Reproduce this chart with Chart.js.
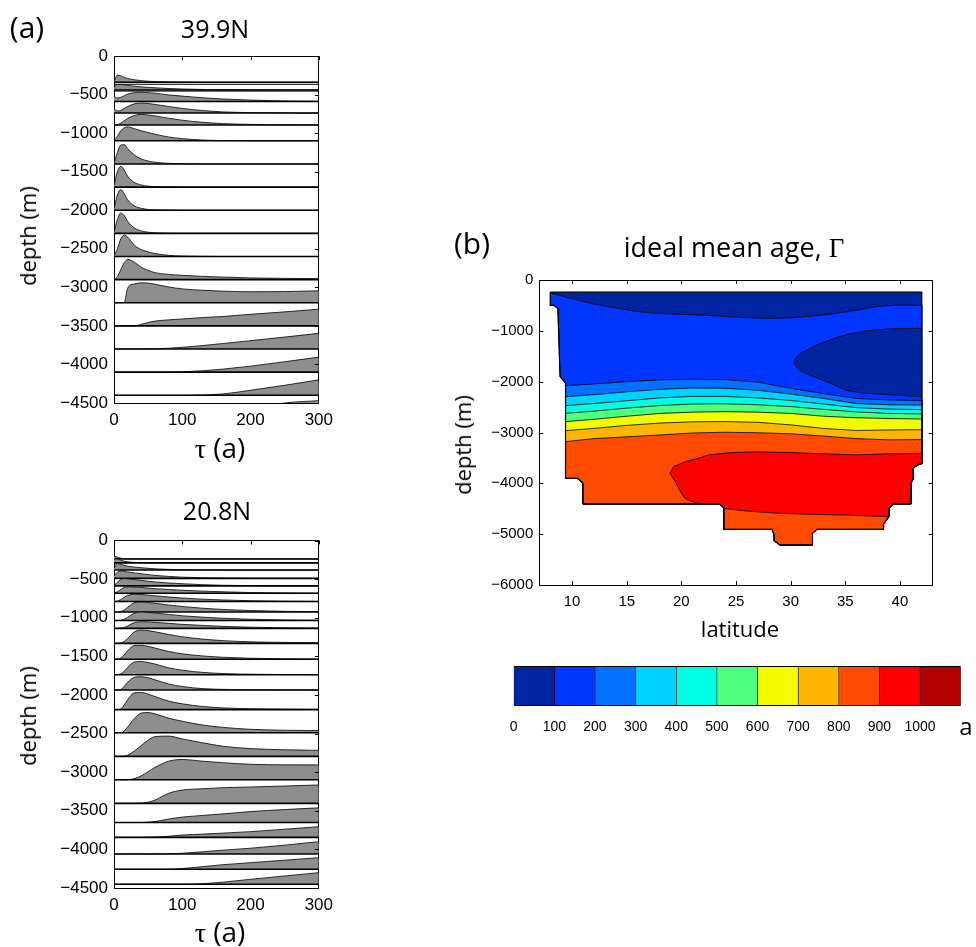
<!DOCTYPE html>
<html>
<head>
<meta charset="utf-8">
<script src="https://cdn.jsdelivr.net/npm/chart.js@4.4.1/dist/chart.umd.min.js"></script>
<style>
  html, body { margin: 0; padding: 0; background: #fff; }
  #page { position: relative; width: 976px; height: 947px; overflow: hidden; }
  canvas { position: absolute; }
  .lbl { position: absolute; transform: translate(-50%, -50%); white-space: nowrap;
         font-family: 'Open Sans', sans-serif; color: #000; line-height: 1; }
  .rot { transform: translate(-50%, -50%) rotate(-90deg); }
  .serif { font-family: 'Liberation Serif', serif; }
</style>
</head>
<body>
<div id="page">
  <canvas id="ridgeTop" width="340" height="470" style="left:0;top:0"></canvas>
  <canvas id="ridgeBottom" width="340" height="477" style="left:0;top:470px"></canvas>
  <canvas id="ageMap" width="536" height="460" style="left:440px;top:200px"></canvas>
  <canvas id="ageBar" width="486" height="100" style="left:490px;top:650px"></canvas>

  <div class="lbl" style="left:27px;top:27px;font-size:30px">(a)</div>
  <div class="lbl" style="left:215px;top:28px;font-size:25px">39.9N</div>
  <div class="lbl rot" style="left:27px;top:236px;font-size:22px">depth (m)</div>
  <div class="lbl" style="left:220px;top:448px;font-size:28px"><span class="serif">τ</span> (a)</div>

  <div class="lbl" style="left:217px;top:510px;font-size:25px">20.8N</div>
  <div class="lbl rot" style="left:27px;top:716px;font-size:22px">depth (m)</div>
  <div class="lbl" style="left:220px;top:932px;font-size:28px"><span class="serif">τ</span> (a)</div>

  <div class="lbl" style="left:472px;top:243px;font-size:30px">(b)</div>
  <div class="lbl" style="left:734px;top:247px;font-size:27px">ideal mean age, <span class="serif">Γ</span></div>
  <div class="lbl rot" style="left:462px;top:445px;font-size:22px">depth (m)</div>
  <div class="lbl" style="left:740px;top:628px;font-size:22px">latitude</div>
  <div class="lbl" style="left:966px;top:726px;font-size:24px">a</div>
</div>

<script>
Chart.defaults.font.family = "'Liberation Sans', Arial, sans-serif";
Chart.defaults.color = '#000';

// ---- panel (a): transit-time distributions ----
const tauGrid = [0, 5, 10, 15, 20, 30, 40, 50, 60, 80, 100, 130, 160, 200, 250, 300];
const tauTicks = [0, 100, 200, 300];
const depthTicksA = [0, -500, -1000, -1500, -2000, -2500, -3000, -3500, -4000, -4500];

// 39.9N: baseline depth of each ridge (m) and rise above it (m) at tauGrid
const base39 = [-340, -440, -590, -740, -895, -1100, -1400, -1700, -2000, -2300,
                -2600, -2900, -3200, -3500, -3800, -4100, -4400, -4700];
const rise39 = [
  [10, 92, 82, 62, 48, 32, 20, 13, 8, 4, 2, 0, 0, 0, 0, 0],
  [35, 70, 72, 65, 58, 48, 40, 33, 28, 18, 12, 6, 3, 1, 0, 0],
  [70, 45, 55, 75, 95, 115, 120, 115, 108, 85, 70, 48, 32, 18, 8, 3],
  [60, 28, 35, 60, 85, 120, 130, 125, 112, 85, 60, 33, 15, 6, 2, 0],
  [0, 5, 25, 55, 85, 125, 138, 130, 118, 88, 62, 35, 18, 8, 2, 0],
  [5, 60, 130, 170, 180, 158, 130, 108, 86, 50, 28, 10, 3, 0, 0, 0],
  [10, 150, 245, 250, 200, 115, 65, 38, 22, 8, 3, 0, 0, 0, 0, 0],
  [20, 200, 270, 220, 140, 60, 28, 12, 6, 2, 0, 0, 0, 0, 0, 0],
  [20, 200, 268, 215, 135, 55, 25, 10, 5, 2, 0, 0, 0, 0, 0, 0],
  [15, 180, 265, 230, 155, 70, 32, 15, 7, 2, 0, 0, 0, 0, 0, 0],
  [10, 100, 230, 278, 250, 145, 90, 60, 38, 15, 6, 2, 0, 0, 0, 0],
  [0, 40, 130, 220, 262, 225, 160, 120, 90, 68, 56, 42, 33, 22, 16, 13],
  [0, 0, 0, 5, 190, 245, 258, 255, 240, 205, 180, 162, 150, 143, 145, 155],
  [0, 0, 0, 0, 0, 0, 20, 45, 62, 78, 90, 108, 122, 150, 182, 216],
  [0, 0, 0, 0, 0, 0, 0, 2, 4, 10, 22, 45, 72, 108, 155, 203],
  [0, 0, 0, 0, 0, 0, 0, 0, 0, 1, 5, 18, 40, 78, 135, 195],
  [0, 0, 0, 0, 0, 0, 0, 0, 0, 0, 0, 4, 18, 65, 130, 200],
  [0, 0, 0, 0, 0, 0, 0, 0, 0, 0, 0, 0, 15, 110, 200, 230]
];
const boxTop39 = [-367, -455];

// 20.8N
const base20 = [-240, -290, -382, -490, -588, -684, -790, -925, -1035, -1138, -1332, -1537,
                -1738, -1936, -2190, -2490, -2795, -3098, -3404, -3652, -3844, -4060, -4258, -4452];
const rise20 = [
  [40, 25, 10, 5, 2, 0, 0, 0, 0, 0, 0, 0, 0, 0, 0, 0],
  [50, 50, 35, 22, 14, 6, 2, 0, 0, 0, 0, 0, 0, 0, 0, 0],
  [20, 85, 75, 60, 50, 38, 30, 22, 15, 8, 4, 1, 0, 0, 0, 0],
  [30, 80, 95, 90, 82, 70, 60, 48, 38, 25, 15, 8, 4, 1, 0, 0],
  [5, 45, 85, 95, 92, 82, 72, 60, 52, 38, 28, 16, 8, 3, 1, 0],
  [5, 20, 50, 78, 86, 82, 76, 68, 60, 50, 40, 28, 20, 10, 4, 1],
  [0, 5, 25, 55, 80, 94, 90, 82, 74, 58, 45, 30, 20, 10, 4, 1],
  [0, 0, 5, 25, 60, 120, 128, 122, 112, 90, 70, 48, 32, 18, 8, 3],
  [0, 0, 3, 15, 40, 95, 108, 104, 96, 78, 60, 42, 28, 15, 6, 2],
  [0, 0, 3, 12, 32, 75, 86, 84, 78, 65, 52, 38, 26, 15, 7, 3],
  [0, 0, 5, 25, 65, 150, 172, 165, 150, 115, 85, 55, 35, 20, 12, 8],
  [0, 2, 15, 55, 110, 178, 180, 165, 145, 100, 70, 42, 25, 12, 5, 2],
  [0, 2, 12, 45, 95, 165, 172, 158, 138, 90, 58, 30, 15, 6, 2, 0],
  [0, 0, 8, 45, 100, 165, 172, 158, 132, 78, 45, 18, 8, 3, 1, 0],
  [0, 0, 10, 60, 130, 218, 222, 200, 170, 110, 75, 40, 22, 12, 6, 3],
  [0, 0, 2, 25, 75, 185, 255, 262, 245, 190, 150, 100, 70, 45, 33, 28],
  [0, 0, 0, 2, 15, 70, 140, 210, 255, 262, 225, 175, 130, 100, 85, 77],
  [0, 0, 0, 0, 0, 15, 50, 105, 160, 240, 262, 240, 220, 200, 193, 192],
  [0, 0, 0, 0, 0, 0, 3, 15, 42, 130, 172, 190, 203, 212, 225, 238],
  [0, 0, 0, 0, 0, 0, 0, 5, 12, 45, 70, 92, 112, 142, 168, 190],
  [0, 0, 0, 0, 0, 0, 0, 2, 5, 14, 30, 42, 55, 74, 105, 138],
  [0, 0, 0, 0, 0, 0, 0, 0, 0, 3, 10, 30, 50, 75, 115, 160],
  [0, 0, 0, 0, 0, 0, 0, 0, 0, 0, 10, 35, 60, 86, 118, 151],
  [0, 0, 0, 0, 0, 0, 0, 0, 0, 0, 0, 8, 28, 65, 108, 151]
];

// ---- panel (b): ideal mean age section ----
const latTicks = [10, 15, 20, 25, 30, 35, 40];
const depthTicksB = [0, -1000, -2000, -3000, -4000, -5000, -6000];
const ageLevels = [0, 100, 200, 300, 400, 500, 600, 700, 800, 900, 1000, 1100];
const ageTickLabels = [0, 100, 200, 300, 400, 500, 600, 700, 800, 900, 1000];
const ageColors = ['#0024a0', '#0036ff', '#0072ff', '#00d2ff', '#00ffe2', '#4eff80',
                   '#f4fa00', '#ffb600', '#ff4a00', '#ff0000', '#b20000'];

// basin outline [lat, depth]
const domainTop = [[8, -240], [42, -240]];
const domainLower = [[42, -3610], [41.6, -3640], [41.2, -3700], [41.2, -3920], [41, -4000],
  [41, -4405], [39.4, -4405], [39, -4490], [39, -4655], [38.5, -4800], [38.5, -4905],
  [32.4, -4905], [32, -4985], [32, -5210], [29, -5210], [28.5, -5130], [28.5, -5020],
  [28.3, -4905], [23.9, -4905], [23.9, -4490], [23.5, -4405], [11, -4405], [11, -4000],
  [10.5, -3900], [9.4, -3900]];
const domainLeft = [[9.4, -2030], [8.9, -1900], [8.7, -560], [8.35, -500], [8, -500]];

// contours
const c100 = [[8, -250], [10, -370], [12, -470], [14, -550], [16, -620], [18, -660], [20, -675],
  [22, -690], [24, -715], [26, -740], [28, -755], [30, -745], [32, -710], [34, -660],
  [36, -595], [38, -520], [39.5, -495], [42, -495]];
const youngTongue = [[42, -951], [40, -955], [38.8, -964], [37, -1000], [35.7, -1049],
  [34.5, -1110], [33.6, -1180], [32.5, -1270], [31.8, -1344], [31, -1430], [30.55, -1508],
  [30.33, -1600], [30.45, -1690], [30.85, -1780], [31.5, -1850], [32.1, -1900], [33.6, -2030],
  [35.1, -2170], [36.6, -2225], [38.2, -2245], [40, -2270], [42, -2300]];
const contourLat = [9.4, 12, 15, 18, 21, 24, 27, 30, 33, 36, 39, 42];
const c200 = [-2080, -2045, -2000, -1965, -1950, -1960, -2010, -2130, -2235, -2330, -2360, -2370];
const c300 = [-2295, -2255, -2200, -2150, -2125, -2130, -2170, -2245, -2330, -2430, -2455, -2460];
const c400 = [-2472, -2430, -2375, -2320, -2290, -2290, -2320, -2370, -2440, -2510, -2540, -2550];
const c500 = [-2623, -2580, -2520, -2470, -2440, -2435, -2455, -2490, -2545, -2595, -2625, -2635];
const c600 = [-2787, -2740, -2680, -2625, -2600, -2590, -2600, -2625, -2680, -2710, -2725, -2735];
const c700 = [-2964, -2920, -2860, -2815, -2790, -2785, -2800, -2850, -2920, -2960, -2950, -2945];
const c800 = [-3180, -3120, -3085, -3050, -3010, -2995, -3005, -3025, -3070, -3120, -3145, -3140];
const blob900 = [[42, -3410], [39, -3420], [36, -3440], [33, -3420], [30, -3395], [27, -3380],
  [24.5, -3395], [22.5, -3440], [21.5, -3510], [20.3, -3580], [19.3, -3670], [18.95, -3800],
  [19.4, -3950], [19.8, -4120], [20.3, -4290], [21, -4360], [21.8, -4405], [23.5, -4405],
  [23.9, -4492], [26, -4545], [29, -4590], [32, -4610], [35, -4625], [39, -4655], [39, -4490],
  [39.4, -4405], [41, -4405], [41, -4000], [41.2, -3920], [41.2, -3700], [41.6, -3640], [42, -3610]];

const pts = arr => arr.map(([x, y]) => ({x, y}));
const minus = v => String(v).replace('-', '\u2212');
const setTicks = list => s => { s.ticks = list.map(v => ({value: v})); };

// small inward tick marks like the original axes
const inTicks = {
  id: 'inTicks',
  afterDraw(chart, args, o) {
    const {ctx, chartArea: a, scales} = chart;
    const len = o.len || 4;
    ctx.save();
    ctx.strokeStyle = '#000';
    ctx.lineWidth = 1;
    ctx.beginPath();
    scales.x.ticks.forEach(t => {
      const p = Math.round(scales.x.getPixelForValue(t.value)) + 0.5;
      if (o.top) { ctx.moveTo(p, a.top); ctx.lineTo(p, a.top + len); }
      if (o.bottom) { ctx.moveTo(p, a.bottom); ctx.lineTo(p, a.bottom - len); }
    });
    scales.y.ticks.forEach(t => {
      const p = Math.round(scales.y.getPixelForValue(t.value)) + 0.5;
      if (o.left) { ctx.moveTo(a.left, p); ctx.lineTo(a.left + len, p); }
      if (o.right) { ctx.moveTo(a.right, p); ctx.lineTo(a.right - len, p); }
    });
    ctx.stroke();
    ctx.restore();
  }
};

function frameScales(xmin, xmax, ymin, ymax) {
  const edge = {display: false, drawTicks: false};
  return {
    x2: {type: 'linear', position: 'top', min: xmin, max: xmax, grid: edge,
         ticks: {display: false}, border: {color: '#000'}, afterFit: s => { s.height = 0; }},
    y2: {type: 'linear', position: 'right', min: ymin, max: ymax, grid: edge,
         ticks: {display: false}, border: {color: '#000'}, afterFit: s => { s.width = 0; }}
  };
}

function hline(depth, w) {
  return {data: [{x: 0, y: depth}, {x: 300, y: depth}], borderColor: '#000', borderWidth: w, fill: false};
}

function ridgeChart(id, bases, rises, tops, padTop, xHeight) {
  const datasets = [];
  tops.forEach(d => datasets.push(hline(d, 1)));
  bases.forEach((b, i) => {
    datasets.push({
      data: tauGrid.map((t, j) => ({x: t, y: b + rises[i][j]})),
      borderColor: '#000',
      borderWidth: 0.8,
      backgroundColor: '#8e8e8e',
      fill: {value: b},
      cubicInterpolationMode: 'monotone'
    });
    datasets.push(hline(b, 1.6));
  });
  datasets.forEach((d, i) => { d.order = -i; d.pointRadius = 0; });

  return new Chart(document.getElementById(id), {
    type: 'line',
    data: {datasets},
    plugins: [inTicks],
    options: {
      responsive: false, animation: false, devicePixelRatio: 1,
      layout: {padding: {top: padTop, right: 21, left: 0, bottom: 0}},
      plugins: {legend: {display: false}, tooltip: {enabled: false},
                inTicks: {top: true, right: true, len: 4}},
      scales: Object.assign({
        x: {type: 'linear', min: 0, max: 300,
            grid: {display: false, drawTicks: false}, border: {color: '#000'},
            ticks: {font: {size: 17}, padding: 7},
            afterBuildTicks: setTicks(tauTicks), afterFit: s => { s.height = xHeight; }},
        y: {type: 'linear', min: -4500, max: 0,
            grid: {display: false, drawTicks: false}, border: {color: '#000'},
            ticks: {font: {size: 17}, padding: 6, callback: minus},
            afterBuildTicks: setTicks(depthTicksA), afterFit: s => { s.width = 114; }}
      }, frameScales(0, 300, -4500, 0))
    }
  });
}

ridgeChart('ridgeTop', base39, rise39, boxTop39, 56, 67);
ridgeChart('ridgeBottom', base20, rise20, [], 70.5, 59);

// ---- age section ----
function poly(points, color, bw) {
  return {data: pts(points), backgroundColor: color, borderColor: '#000', borderWidth: bw, fill: 'shape'};
}
const bands = [c200, c300, c400, c500, c600, c700, c800];
const mapSets = [
  poly(domainTop.concat(domainLower, domainLeft), ageColors[0], 0),
  poly(c100.concat(domainLower, domainLeft), ageColors[1], 0.8),
  poly(youngTongue, ageColors[0], 0.8)
];
bands.forEach((c, k) => {
  const line = contourLat.map((lat, j) => [lat, c[j]]);
  mapSets.push(poly(line.concat(domainLower), ageColors[k + 2], 0.8));
});
mapSets.push(poly(blob900, ageColors[9], 0.8));
mapSets.push({data: pts(domainTop.concat(domainLower, domainLeft, [domainTop[0]])),
              borderColor: '#000', borderWidth: 1.2, fill: false});
mapSets.forEach((d, i) => { d.order = -i; d.pointRadius = 0; });

new Chart(document.getElementById('ageMap'), {
  type: 'line',
  data: {datasets: mapSets},
  plugins: [inTicks],
  options: {
    responsive: false, animation: false, devicePixelRatio: 1,
    layout: {padding: {top: 80, right: 43.3, left: 0, bottom: 0}},
    plugins: {legend: {display: false}, tooltip: {enabled: false},
              inTicks: {top: true, right: true, left: true, bottom: true, len: 4}},
    scales: Object.assign({
      x: {type: 'linear', min: 7, max: 43,
          grid: {display: false, drawTicks: false}, border: {color: '#000'},
          ticks: {font: {size: 15}, padding: 8},
          afterBuildTicks: setTicks(latTicks), afterFit: s => { s.height = 75; }},
      y: {type: 'linear', min: -6000, max: 0,
          grid: {display: false, drawTicks: false}, border: {color: '#000'},
          ticks: {font: {size: 15}, padding: 6, callback: minus},
          afterBuildTicks: setTicks(depthTicksB), afterFit: s => { s.width = 99.3; }}
    }, frameScales(7, 43, -6000, 0))
  }
});

// ---- colour bar ----
new Chart(document.getElementById('ageBar'), {
  type: 'bar',
  data: {
    labels: ['age'],
    datasets: ageColors.map((c, i) => ({
      data: [ageLevels[i + 1] - ageLevels[i]],
      backgroundColor: c,
      borderColor: '#000',
      borderWidth: {top: 1.3, bottom: 1.3, left: 0.6, right: 0.6},
      borderSkipped: false,
      barPercentage: 1,
      categoryPercentage: 1
    }))
  },
  options: {
    indexAxis: 'y',
    responsive: false, animation: false, devicePixelRatio: 1,
    layout: {padding: {top: 16, right: 15.3, left: 23.7, bottom: 0}},
    plugins: {legend: {display: false}, tooltip: {enabled: false}},
    scales: {
      x: {type: 'linear', stacked: true, min: 0, max: 1100,
          grid: {display: false, drawTicks: false}, border: {display: false},
          ticks: {font: {size: 14}, padding: 13, callback: v => String(v)},
          afterBuildTicks: setTicks(ageTickLabels), afterFit: s => { s.height = 44; }},
      y: {stacked: true, display: false}
    }
  }
});
</script>
</body>
</html>
